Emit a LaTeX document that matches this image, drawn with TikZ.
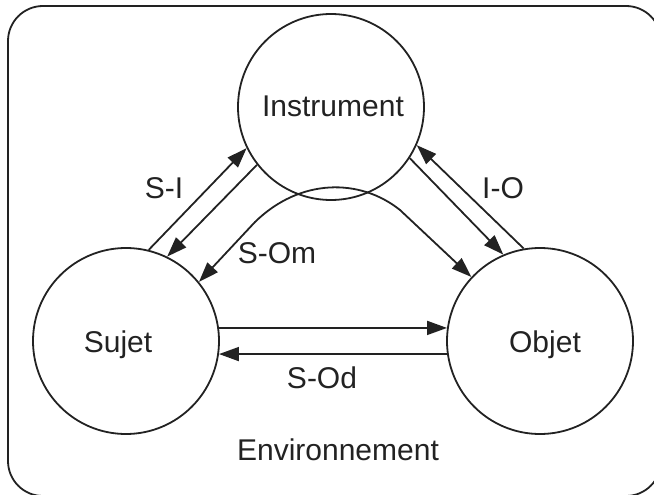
\documentclass[tikz,border=0pt]{standalone}
\usepackage{fontspec}
\setmainfont{Liberation Sans}
\usetikzlibrary{arrows.meta}
\definecolor{ink}{HTML}{222222}
\begin{document}
\begin{tikzpicture}[x=1pt,y=-1pt,
  ent/.style={circle, draw=ink, line width=1.8pt, minimum size=186pt, inner sep=0pt},
  txt/.style={text=ink, font=\fontsize{30}{31}\selectfont, inner sep=0pt, anchor=base},
  con/.style={draw=ink, line width=1.8pt},
  tip/.style={-{Triangle[length=20pt,width=14pt]}},
  tips/.style={{Triangle[length=20pt,width=14pt]}-{Triangle[length=20pt,width=14pt]}},
]
\useasboundingbox (0,0) rectangle (654,495);
\begin{scope}
  \clip (0,0) rectangle (654,495);
  \draw[draw=ink, line width=1.8pt, rounded corners=35pt] (8,6) rectangle (661,496);
\end{scope}

% entities
\node[ent] (I) at (331,107) {};
\node[ent] (S) at (126,341) {};
\node[ent] (O) at (540,341) {};

\node[txt] (It) at (333,117) {Instrument};
\node[txt] (St) at (118,352) {Sujet};
\node[txt] (Ot) at (545,352) {Objet};
\node[txt] (Et) at (338,460) {Environnement};

% S-I
\draw[con,tip] (S.76) -- (I.206);
\draw[con,tip] (I.218) -- (S.64);
% I-O
\draw[con,tip] (O.100) -- (I.-24);
\draw[con,tip] (I.-33) -- (O.113);
% S-Od
\draw[con,tip] (S.8) -- (O.172);
\draw[con,tip] (O.188) -- (S.-8);
% S-Om
\coordinate (m1) at (255,222);
\coordinate (c1) at (300,178);
\coordinate (c2) at (360,178);
\coordinate (m2) at (400,210);
\draw[con,tips] (S.39) -- (m1) .. controls (c1) and (c2) .. (m2) -- (O.137);

% labels
\node[txt] (lSI) at (164,198) {S-I};
\node[txt] (lSOm) at (277,263) {S-Om};
\node[txt] (lIO) at (503,198) {I-O};
\node[txt] (lSOd) at (322,388) {S-Od};
\end{tikzpicture}
\end{document}
